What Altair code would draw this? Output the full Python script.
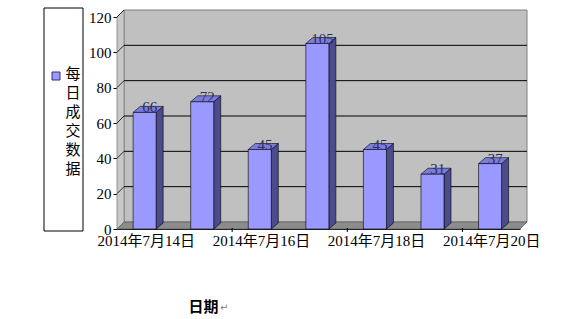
import altair as alt
import pandas as pd

# Daily trading counts, 14-20 July 2014
dates = ["2014年7月14日", "2014年7月15日", "2014年7月16日", "2014年7月17日",
         "2014年7月18日", "2014年7月19日", "2014年7月20日"]
values = [66, 72, 45, 105, 45, 31, 37]
y_ticks = [0, 20, 40, 60, 80, 100, 120]
series_name = "每日成交数据"
axis_title = "日期"

FONT = "'Liberation Serif', 'Noto Sans CJK SC', serif"
W, H = 403, 212
N = len(dates)
YMAX = 120

# 3-D depth expressed in data units (pixels -> scale units)
px_x = N / W
px_y = YMAX / H
WALL_DX, WALL_DY = 7 * px_x, 7 * px_y
BAR_DX, BAR_DY = 7 * px_x, 6 * px_y
BAR_L, BAR_R = 0.28, 0.68

xs = alt.Scale(domain=[0, N], nice=False, zero=False)
ys = alt.Scale(domain=[0, YMAX], nice=False)

X_AX = alt.Axis(values=[0.5, 2.5, 4.5, 6.5],
                labelExpr="['" + "','".join(dates) + "'][floor(datum.value)]",
                tickSize=0, domainColor="black", domainWidth=1,
                labelFont=FONT, labelFontSize=15, labelColor="black",
                labelPadding=4, grid=False,
                title=axis_title, titleFont=FONT, titleFontSize=15,
                titleFontWeight="bold", titleColor="black",
                titleX=86, titleY=77, titleBaseline="middle", titleAlign="center")
Y_AX = alt.Axis(values=y_ticks, tickSize=4, tickColor="black",
                domainColor="black", domainWidth=1, grid=False,
                labelFont=FONT, labelFontSize=15, labelColor="black",
                labelPadding=2, title=None)


def X(field):
    return alt.X(field, scale=xs, axis=X_AX)


def Y(field):
    return alt.Y(field, scale=ys, axis=Y_AX)


# back wall
wall = pd.DataFrame({"x": [WALL_DX], "x2": [N + WALL_DX],
                     "y": [WALL_DY], "y2": [YMAX + WALL_DY]})
back = alt.Chart(wall).mark_rect(fill="#C0C0C0", stroke="#808080", strokeWidth=1).encode(
    x=X("x:Q"), x2="x2:Q", y=Y("y:Q"), y2="y2:Q")

# left side wall
lw = pd.DataFrame({"x": [0, WALL_DX], "lo": [0, WALL_DY], "hi": [YMAX, YMAX + WALL_DY]})
left_wall = alt.Chart(lw).mark_area(fill="#C8C8C8", stroke="#808080", strokeWidth=0.8).encode(
    x=X("x:Q"), y=Y("lo:Q"), y2="hi:Q")

# floor
fl = pd.DataFrame({"x": [0, WALL_DX, N, N + WALL_DX],
                   "lo": [0, 0, 0, WALL_DY], "hi": [0, WALL_DY, WALL_DY, WALL_DY]})
floor = alt.Chart(fl).mark_area(fill="#8C8C8C", stroke="#606060", strokeWidth=0.8).encode(
    x=X("x:Q"), y=Y("lo:Q"), y2="hi:Q")

# gridlines on the back wall
gv = [v for v in y_ticks if 0 < v < YMAX]
grid = pd.DataFrame({"x": [WALL_DX] * len(gv), "x2": [N + WALL_DX] * len(gv),
                     "y": [v + WALL_DY for v in gv]})
back_grid = alt.Chart(grid).mark_rule(color="black", strokeWidth=1).encode(
    x=X("x:Q"), x2="x2:Q", y=Y("y:Q"))

# slanted gridlines on the side wall
sg_rows = []
for v in y_ticks[1:]:
    sg_rows.append({"g": v, "x": 0, "y": v})
    sg_rows.append({"g": v, "x": WALL_DX, "y": v + WALL_DY})
side_grid = alt.Chart(pd.DataFrame(sg_rows)).mark_line(color="black", strokeWidth=0.8).encode(
    x=X("x:Q"), y=Y("y:Q"), detail="g:N")

# bars: side face, top face, front face
side_rows, top_rows, front_rows = [], [], []
for i, v in enumerate(values):
    xl, xr = i + BAR_L, i + BAR_R
    side_rows += [{"b": i, "x": xr, "lo": 0, "hi": v},
                  {"b": i, "x": xr + BAR_DX, "lo": BAR_DY, "hi": v + BAR_DY}]
    top_rows += [{"b": i, "x": xl, "lo": v, "hi": v},
                 {"b": i, "x": xl + BAR_DX, "lo": v, "hi": v + BAR_DY},
                 {"b": i, "x": xr, "lo": v, "hi": v + BAR_DY},
                 {"b": i, "x": xr + BAR_DX, "lo": v + BAR_DY, "hi": v + BAR_DY}]
    front_rows.append({"b": i, "x": xl, "x2": xr, "v": v, "zero": 0,
                       "label": str(v), "mid": i + 0.5})
front_df = pd.DataFrame(front_rows)

side = alt.Chart(pd.DataFrame(side_rows)).mark_area(
    fill="#4C4C8C", stroke="black", strokeWidth=0.6).encode(
    x=X("x:Q"), y=Y("lo:Q"), y2="hi:Q", detail="b:N")
top = alt.Chart(pd.DataFrame(top_rows)).mark_area(
    fill="#7C7CE0", stroke="black", strokeWidth=0.6).encode(
    x=X("x:Q"), y=Y("lo:Q"), y2="hi:Q", detail="b:N")
front = alt.Chart(front_df).mark_rect(
    fill="#9999FF", stroke="black", strokeWidth=0.6).encode(
    x=X("x:Q"), x2="x2:Q", y=Y("v:Q"), y2="zero:Q")

labels = alt.Chart(front_df).mark_text(
    font=FONT, fontSize=15, color="#2E2E5C", baseline="bottom", dx=4, dy=3).encode(
    x=X("mid:Q"), y=Y("v:Q"), text="label:N")

# category boundary ticks on the x axis
tick_df = pd.DataFrame({"x": [2, 4, 6]})
xticks = alt.Chart(tick_df).mark_rule(color="black", strokeWidth=1).encode(
    x=X("x:Q"), y=alt.value(H - 1), y2=alt.value(H + 3))

# legend: framed box with swatch and vertical text
one = pd.DataFrame({"k": [0]})
legend_box = alt.Chart(one).mark_rect(
    fill="white", stroke="black", strokeWidth=1).encode(
    x=alt.value(-73), x2=alt.value(-34), y=alt.value(-9), y2=alt.value(214))
legend_swatch = alt.Chart(one).mark_rect(
    fill="#9999FF", stroke="#333366", strokeWidth=1).encode(
    x=alt.value(-65), x2=alt.value(-57), y=alt.value(55), y2=alt.value(63))
legend_text = alt.Chart(one).mark_text(
    font=FONT, fontSize=15, color="black", align="center", baseline="top",
    lineHeight=19).encode(
    x=alt.value(-44), y=alt.value(50), text=alt.value(list(series_name)))

return_mark = alt.Chart(one).mark_text(
    font="DejaVu Sans", fontSize=10, color="#808080", align="left", baseline="middle").encode(
    x=alt.value(103), y=alt.value(291), text=alt.value("↵"))

chart = alt.layer(
    back, left_wall, floor, back_grid, side_grid,
    side, top, front, labels, xticks,
    legend_box, legend_swatch, legend_text, return_mark,
).properties(
    width=W, height=H,
    autosize=alt.AutoSizeParams(type="none"),
    padding={"left": 117, "top": 17, "right": 59, "bottom": 90},
    background="white",
).configure_view(stroke=None)

chart.save("out.html", embed_options={"renderer": "svg", "actions": False})
